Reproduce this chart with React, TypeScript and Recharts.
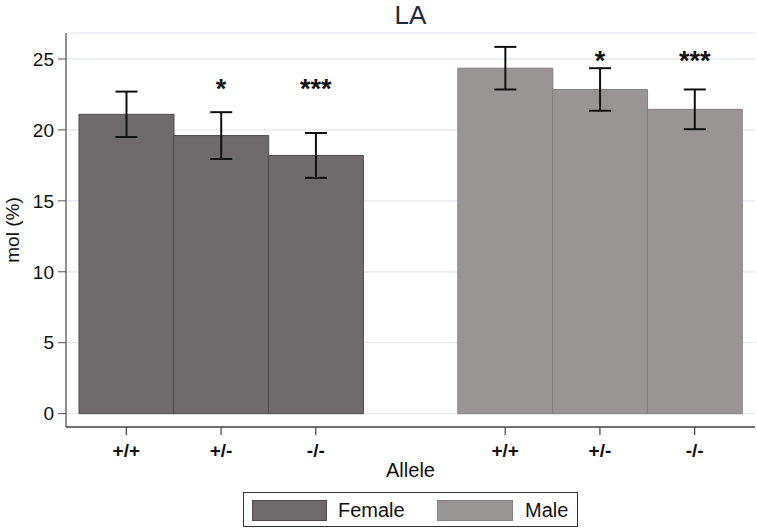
import React from 'react';
import { ComposedChart, Bar, Cell, ErrorBar, Line, LabelList, XAxis, YAxis, CartesianGrid } from 'recharts';

const slots = ['F1', 'F2', 'F3', 'gap', 'M1', 'M2', 'M3'];
const alleles = ['+/+', '+/-', '-/-', '', '+/+', '+/-', '-/-'];
const sexes = ['Female', 'Female', 'Female', '', 'Male', 'Male', 'Male'];
const means = [21.1, 19.6, 18.2, null, 24.35, 22.85, 21.45];
const errors = [1.6, 1.65, 1.58, null, 1.5, 1.5, 1.4];
const sigMarks = ['', '*', '***', '', '', '*', '***'];
const sigLevels = [null, 23.3, 23.3, null, null, 25.3, 25.3];
const yTicks = [0, 5, 10, 15, 20, 25];

const COLORS: Record<string, string> = { Female: '#6f6a6b', Male: '#9a9595' };
const EDGES: Record<string, string> = { Female: '#4f4b4c', Male: '#858081' };
const FONT = '"Liberation Sans", Arial, sans-serif';

const data = slots.map((s, i) => ({
  slot: s,
  allele: alleles[i],
  sex: sexes[i],
  value: means[i],
  err: errors[i],
  sig: sigMarks[i],
  sigLevel: sigLevels[i],
}));

const XTick = (props: any) => {
  const { x, y, index } = props;
  const label = alleles[index];
  if (!label) return null;
  return (
    <g>
      <line x1={x} x2={x} y1={y} y2={y + 8} stroke="#444" strokeWidth={1.2} />
      <text x={x} y={y + 25} textAnchor="middle" dominantBaseline="middle" fontFamily={FONT} fontSize={19} fontWeight="bold" fill="#111">
        {label}
      </text>
    </g>
  );
};

const SigLabel = (props: any) => {
  const { x, y, value } = props;
  if (!value) return null;
  return (
    <text x={x} y={y + 15} textAnchor="middle" fontFamily={FONT} fontSize={27} fontWeight="bold" fill="#111">
      {value}
    </text>
  );
};

export default function App() {
  return (
    <div style={{ position: 'fixed', left: 0, top: 0, width: 757, height: 531, background: '#fff' }}>
      <div style={{ position: 'absolute', left: 66, width: 689, top: 0, textAlign: 'center', fontFamily: FONT, fontSize: 26, color: '#1c2a44', lineHeight: '30px' }}>
        LA
      </div>
      <ComposedChart width={757} height={531} data={data} margin={{ top: 33, right: 2, bottom: 0, left: 0 }} barCategoryGap={0} barGap={0}>
        <CartesianGrid vertical={false} stroke="#e3e8ee" strokeWidth={1.2} />
        <XAxis
          dataKey="slot"
          height={104}
          padding={{ left: 13, right: 13 }}
          axisLine={{ stroke: '#444', strokeWidth: 1.3 }}
          tickLine={false}
          tickSize={0}
          tickMargin={0}
          interval={0}
          tick={<XTick />}
          label={({ viewBox }: any) => (
            <text x={viewBox.x + viewBox.width / 2} y={viewBox.y + 50} textAnchor="middle" fontFamily={FONT} fontSize={20} fill="#111">
              Allele
            </text>
          )}
        />
        <YAxis
          width={66}
          domain={[-0.94, 26.83]}
          ticks={yTicks}
          allowDataOverflow
          axisLine={{ stroke: '#555', strokeWidth: 1.3 }}
          tickLine={{ stroke: '#555' }}
          tickSize={8}
          tickMargin={4}
          tick={{ fontFamily: FONT, fontSize: 19, fill: '#111' }}
          label={({ viewBox }: any) => (
            <text x={19} y={viewBox.y + viewBox.height / 2} textAnchor="middle" transform={`rotate(-90 19 ${viewBox.y + viewBox.height / 2})`} fontFamily={FONT} fontSize={19} fill="#111">
              mol (%)
            </text>
          )}
        />
        <Bar dataKey="value" isAnimationActive={false}>
          {data.map((d, i) => (
            <Cell key={i} fill={COLORS[d.sex] || 'none'} stroke={EDGES[d.sex] || 'none'} strokeWidth={1} />
          ))}
          <ErrorBar dataKey="err" width={11} stroke="#111" strokeWidth={2} direction="y" />
        </Bar>
        <Line dataKey="sigLevel" stroke="none" dot={false} activeDot={false} isAnimationActive={false}>
          <LabelList dataKey="sig" content={<SigLabel />} />
        </Line>
      </ComposedChart>
      <div style={{ position: 'absolute', left: 243, top: 492, width: 335, height: 35, boxSizing: 'border-box', border: '1px solid #333', background: '#fff', fontFamily: FONT, fontSize: 20, color: '#111' }}>
        <div style={{ position: 'absolute', left: 8, top: 7, width: 75, height: 21, background: COLORS.Female, border: `1px solid ${EDGES.Female}`, boxSizing: 'border-box' }} />
        <div style={{ position: 'absolute', left: 94, top: 5, lineHeight: '24px' }}>Female</div>
        <div style={{ position: 'absolute', left: 193, top: 7, width: 76, height: 21, background: COLORS.Male, border: `1px solid ${EDGES.Male}`, boxSizing: 'border-box' }} />
        <div style={{ position: 'absolute', left: 281, top: 5, lineHeight: '24px' }}>Male</div>
      </div>
    </div>
  );
}
